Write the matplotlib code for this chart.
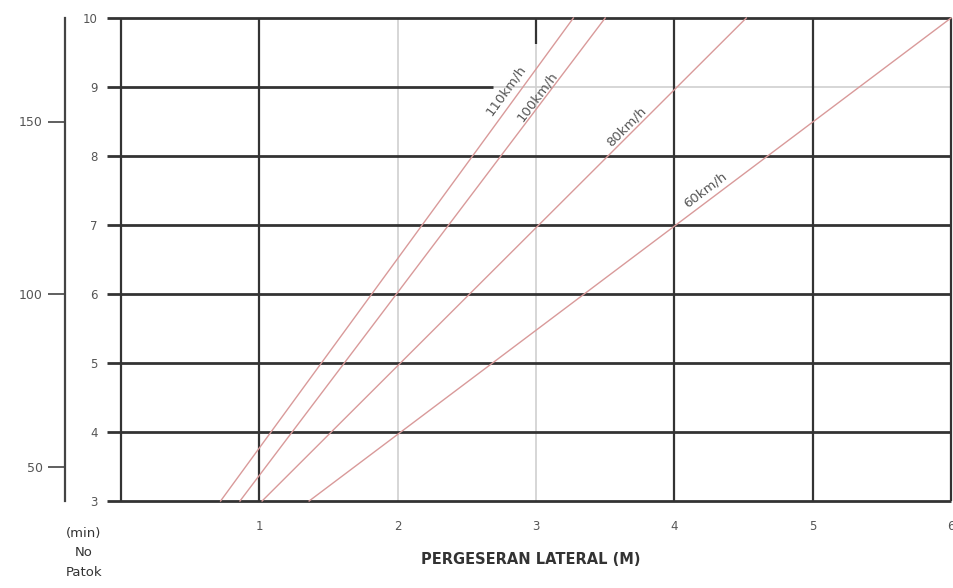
import matplotlib.pyplot as plt

# Lines: x (lateral shift, m) at the bottom (y=3) and top (y=10) of the chart
speeds = ['110km/h', '100km/h', '80km/h', '60km/h']
x_bottom = [0.72, 0.86, 1.02, 1.36]
x_top = [3.27, 3.50, 4.52, 6.00]
y_ends = [3, 10]

# Label positions along each line
label_x = [2.78, 3.01, 3.65, 4.22]
label_y = [8.96, 8.86, 8.42, 7.51]
label_rot = [54, 53, 45, 37]

x_ticks = [1, 2, 3, 4, 5, 6]
y_ticks = [3, 4, 5, 6, 7, 8, 9, 10]
sec_ticks = [50, 100, 150]

dark = '#333333'
light = '#d0d0d0'
red = '#d99a9a'
txt = '#555555'

fig = plt.figure(figsize=(9.54, 5.88), dpi=100)
ax = fig.add_axes([121 / 954, 87 / 588, 830 / 954, 483 / 588])
ax.set_xlim(0, 6)
ax.set_ylim(3, 10)
for s in ax.spines.values():
    s.set_visible(False)

# light grid
ax.vlines([2, 3], 3, 10, color=light, lw=1.2, zorder=1)
ax.hlines(9, 2.69, 6, color=light, lw=1.2, zorder=1)

# dark grid
ax.hlines([3, 4, 5, 6, 7, 8, 10], -0.1, 6, color=dark, lw=2.0, zorder=2, clip_on=False)
ax.hlines(9, -0.1, 2.69, color=dark, lw=2.0, zorder=2, clip_on=False)
ax.vlines([0, 1, 4, 5, 6], 3, 10, color=dark, lw=1.6, zorder=2, clip_on=False)
ax.vlines(3, 9.62, 10, color=dark, lw=1.6, zorder=2)

for i in range(len(speeds)):
    ax.plot([x_bottom[i], x_top[i]], y_ends, color=red, lw=1.0, zorder=3, clip_on=False)
    ax.text(label_x[i], label_y[i], speeds[i], rotation=label_rot[i], ha='center', va='center',
            fontsize=9.5, color=txt, rotation_mode='anchor')

ax.set_xticks(x_ticks)
ax.set_yticks(y_ticks)
ax.tick_params(axis='both', length=0, labelsize=8.5, labelcolor=txt)
ax.tick_params(axis='x', pad=14)
ax.tick_params(axis='y', pad=17)

# secondary scale on the left
sec = ax.secondary_yaxis(-56 / 830, functions=(lambda y: 20 * y - 20, lambda s: (s + 20) / 20))
sec.set_yticks(sec_ticks)
sec.spines['left'].set_color('#444444')
sec.spines['left'].set_linewidth(1.6)
sec.tick_params(axis='y', length=12, width=1.2, color='#444444', labelsize=9, labelcolor=txt, pad=4)

fig.text(84 / 954, 1 - 553 / 588, '(min)\nNo\nPatok', ha='center', va='center', fontsize=9.5,
         color='#333333', linespacing=1.7)
fig.text(531 / 954, 1 - 560 / 588, 'PERGESERAN LATERAL (M)', ha='center', va='center', fontsize=10.5,
         fontweight='bold', color='#333333')

fig.savefig('out.png', dpi=100)
